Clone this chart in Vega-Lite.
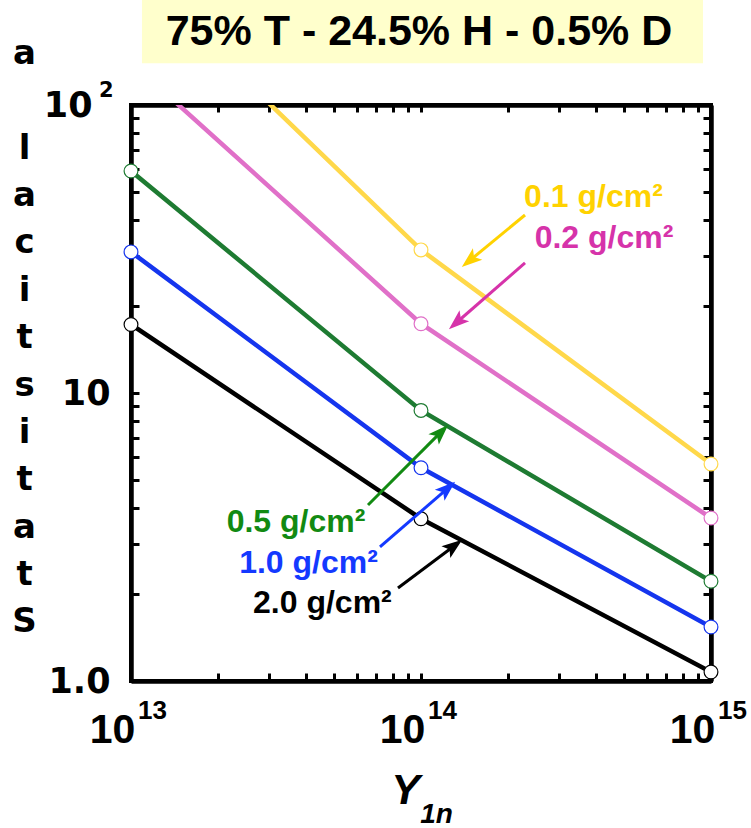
{
  "$schema": "https://vega.github.io/schema/vega-lite/v6.json",
  "width": 580,
  "height": 576,
  "autosize": {"type": "none"},
  "padding": {"left": 131, "top": 105, "right": 40, "bottom": 147},
  "config": {
    "view": {"stroke": "black", "strokeWidth": 4},
    "axis": {"grid": false, "labelFlush": false, "labelOverlap": false, "labelBound": false, "tickColor": "black", "tickWidth": 3, "domainColor": "black", "domainWidth": 4.5, "labelColor": "black", "titleColor": "black"}
  },
  "datasets": {
    "series": [
      {"series": "0.1", "x": 1e13, "y": 294},
      {"series": "0.1", "x": 1e14, "y": 31.4},
      {"series": "0.1", "x": 1e15, "y": 5.67},
      {"series": "0.2", "x": 1e13, "y": 141},
      {"series": "0.2", "x": 1e14, "y": 17.4},
      {"series": "0.2", "x": 1e15, "y": 3.68},
      {"series": "0.5", "x": 1e13, "y": 59.0},
      {"series": "0.5", "x": 1e14, "y": 8.7},
      {"series": "0.5", "x": 1e15, "y": 2.22},
      {"series": "1.0", "x": 1e13, "y": 30.9},
      {"series": "1.0", "x": 1e14, "y": 5.5},
      {"series": "1.0", "x": 1e15, "y": 1.54},
      {"series": "2.0", "x": 1e13, "y": 17.3},
      {"series": "2.0", "x": 1e14, "y": 3.66},
      {"series": "2.0", "x": 1e15, "y": 1.075}
    ],
    "arrows": [
      {"series": "0.1", "x": 2.284e14, "y": 41.5, "x2": 1.472e14, "y2": 28.83, "angle": 230.5},
      {"series": "0.2", "x": 2.284e14, "y": 28.28, "x2": 1.327e14, "y2": 17.57, "angle": 229},
      {"series": "0.5", "x": 6.566e13, "y": 4.084, "x2": 1.171e14, "y2": 7.314, "angle": 45},
      {"series": "1.0", "x": 7.221e13, "y": 2.92, "x2": 1.233e14, "y2": 4.658, "angle": 49},
      {"series": "2.0", "x": 8.33e13, "y": 2.103, "x2": 1.3e14, "y2": 2.943, "angle": 53}
    ],
    "labels": [
      {"series": "0.1", "label": "0.1 g/cm²", "x": 3.933e14, "y": 44.24},
      {"series": "0.2", "label": "0.2 g/cm²", "x": 4.276e14, "y": 31.88},
      {"series": "0.5", "label": "0.5 g/cm²", "x": 3.707e13, "y": 3.291},
      {"series": "1.0", "label": "1.0 g/cm²", "x": 4.093e13, "y": 2.371},
      {"series": "2.0", "label": "2.0 g/cm²", "x": 4.571e13, "y": 1.722}
    ],
    "heading": [{"text": "75% T - 24.5% H - 0.5% D"}]
  },
  "layer": [
    {
      "data": {"name": "heading"},
      "mark": {"type": "rect", "fill": "#FFFFCC", "clip": false},
      "encoding": {
        "x": {"datum": 1.091e13, "type": "quantitative", "scale": {"type": "log", "domain": [1e13, 1e15]}, "axis": null},
        "x2": {"datum": 9.385e14},
        "y": {"datum": 139.6, "type": "quantitative", "scale": {"type": "log", "domain": [1, 100]}, "axis": null},
        "y2": {"datum": 240}
      }
    },
    {
      "data": {"name": "heading"},
      "mark": {"type": "text", "font": "Liberation Sans", "fontWeight": "bold", "fontSize": 43, "align": "center", "baseline": "alphabetic", "color": "black", "clip": false},
      "encoding": {
        "x": {"datum": 9.84e13, "type": "quantitative", "axis": null},
        "y": {"datum": 161.6, "type": "quantitative", "axis": null},
        "text": {"field": "text"}
      }
    },
    {
      "data": {"name": "series"},
      "mark": {"type": "line", "strokeWidth": 4.5, "clip": true},
      "encoding": {
        "x": {
          "field": "x", "type": "quantitative",
          "scale": {"type": "log", "domain": [1e13, 1e15]},
          "axis": {
            "orient": "bottom",
            "values": [1e13, 2e13, 3e13, 4e13, 5e13, 6e13, 7e13, 8e13, 9e13, 1e14, 2e14, 3e14, 4e14, 5e14, 6e14, 7e14, 8e14, 9e14, 1e15],
            "labelExpr": "indexof([1e13, 1e14, 1e15], datum.value) >= 0 ? '10' : ''",
            "tickSize": -8,
            "labelFont": "Liberation Sans", "labelFontWeight": "bold", "labelFontSize": 41,
            "labelBaseline": "alphabetic", "labelPadding": 69, "labelOffset": -19,
            "title": "Y",
            "titleFont": "Liberation Sans", "titleFontWeight": "bold", "titleFontStyle": "italic", "titleFontSize": 43,
            "titleAlign": "center", "titleBaseline": "alphabetic", "titleX": 274, "titleY": 122
          }
        },
        "y": {
          "field": "y", "type": "quantitative",
          "scale": {"type": "log", "domain": [1, 100]},
          "axis": {
            "orient": "left",
            "values": [1, 2, 3, 4, 5, 6, 7, 8, 9, 10, 20, 30, 40, 50, 60, 70, 80, 90, 100],
            "labelExpr": "datum.value == 10 ? '10' : datum.value == 1 ? '1.0' : ''",
            "tickSize": -8,
            "labelFont": "DejaVu Sans", "labelFontWeight": "bold", "labelFontSize": 35,
            "labelBaseline": "middle", "labelAlign": "right", "labelPadding": 29,
            "title": ["l", "a", "c", "i", "t", "s", "i", "t", "a", "t", "S"],
            "titleFont": "DejaVu Sans", "titleFontWeight": "bold", "titleFontSize": 34,
            "titleAngle": 0, "titleAlign": "center", "titleBaseline": "alphabetic",
            "titleLineHeight": 47.4, "titleX": -107, "titleY": 53
          }
        },
        "color": {
          "field": "series", "type": "nominal",
          "scale": {"domain": ["0.1", "0.2", "0.5", "1.0", "2.0"], "range": ["#FFD84A", "#E070C8", "#1E7B32", "#1535EE", "#000000"]},
          "legend": null
        }
      }
    },
    {
      "data": {"name": "series"},
      "transform": [{"filter": "datum.y <= 100"}],
      "mark": {"type": "point", "shape": "circle", "filled": false, "fill": "white", "fillOpacity": 1, "size": 190, "strokeWidth": 1.2, "opacity": 1},
      "encoding": {
        "x": {"field": "x", "type": "quantitative", "axis": null},
        "y": {"field": "y", "type": "quantitative", "axis": null},
        "stroke": {
          "field": "series", "type": "nominal",
          "scale": {"domain": ["0.1", "0.2", "0.5", "1.0", "2.0"], "range": ["#FFD84A", "#E070C8", "#1E7B32", "#1535EE", "#000000"]},
          "legend": null
        }
      }
    },
    {
      "data": {"name": "arrows"},
      "mark": {"type": "rule", "strokeWidth": 3},
      "encoding": {
        "x": {"field": "x", "type": "quantitative", "axis": null},
        "y": {"field": "y", "type": "quantitative", "axis": null},
        "x2": {"field": "x2"},
        "y2": {"field": "y2"},
        "color": {
          "field": "series", "type": "nominal",
          "scale": {"domain": ["0.1", "0.2", "0.5", "1.0", "2.0"], "range": ["#FFD200", "#D633AA", "#128A12", "#1439FF", "#000000"]},
          "legend": null
        }
      }
    },
    {
      "data": {"name": "arrows"},
      "mark": {"type": "point", "shape": "M0,-1L0.72,1L0,0.55L-0.72,1Z", "filled": true, "size": 420, "opacity": 1, "strokeWidth": 0},
      "encoding": {
        "x": {"field": "x2", "type": "quantitative", "axis": null},
        "y": {"field": "y2", "type": "quantitative", "axis": null},
        "angle": {"field": "angle", "type": "quantitative", "scale": null},
        "color": {
          "field": "series", "type": "nominal",
          "scale": {"domain": ["0.1", "0.2", "0.5", "1.0", "2.0"], "range": ["#FFD200", "#D633AA", "#128A12", "#1439FF", "#000000"]},
          "legend": null
        }
      }
    },
    {
      "data": {"name": "labels"},
      "mark": {"type": "text", "font": "Liberation Sans", "fontWeight": "bold", "fontSize": 32, "align": "center", "baseline": "alphabetic"},
      "encoding": {
        "x": {"field": "x", "type": "quantitative", "axis": null},
        "y": {"field": "y", "type": "quantitative", "axis": null},
        "text": {"field": "label"},
        "color": {
          "field": "series", "type": "nominal",
          "scale": {"domain": ["0.1", "0.2", "0.5", "1.0", "2.0"], "range": ["#FFD200", "#D633AA", "#128A12", "#1439FF", "#000000"]},
          "legend": null
        }
      }
    },
    {
      "data": {"name": "series"},
      "mark": {"type": "point", "opacity": 0},
      "encoding": {
        "x": {
          "field": "x", "type": "quantitative",
          "axis": {
            "orient": "top",
            "values": [1e13, 2e13, 3e13, 4e13, 5e13, 6e13, 7e13, 8e13, 9e13, 1e14, 2e14, 3e14, 4e14, 5e14, 6e14, 7e14, 8e14, 9e14, 1e15],
            "labels": false, "tickSize": -7, "title": null
          }
        },
        "y": {
          "field": "y", "type": "quantitative",
          "axis": {
            "orient": "right",
            "values": [1, 2, 3, 4, 5, 6, 7, 8, 9, 10, 20, 30, 40, 50, 60, 70, 80, 90, 100],
            "labels": false, "tickSize": -8, "title": null
          }
        }
      }
    },
    {
      "data": {"name": "series"},
      "mark": {"type": "point", "opacity": 0},
      "encoding": {
        "x": {
          "field": "x", "type": "quantitative",
          "axis": {
            "orient": "bottom",
            "values": [1e13, 1e14, 1e15],
            "labelExpr": "datum.value == 1e13 ? '13' : datum.value == 1e14 ? '14' : '15'",
            "ticks": false, "domain": false,
            "labelFont": "Liberation Sans", "labelFontWeight": "bold", "labelFontSize": 26,
            "labelBaseline": "alphabetic", "labelPadding": 37, "labelOffset": 21,
            "title": "1n",
            "titleFont": "Liberation Sans", "titleFontWeight": "bold", "titleFontStyle": "italic", "titleFontSize": 28,
            "titleAlign": "center", "titleBaseline": "alphabetic", "titleX": 305, "titleY": 141
          }
        },
        "y": {
          "field": "y", "type": "quantitative",
          "axis": {
            "orient": "left",
            "values": [100],
            "labelExpr": "'10'",
            "ticks": false, "domain": false,
            "labelFont": "DejaVu Sans", "labelFontWeight": "bold", "labelFontSize": 35,
            "labelBaseline": "middle", "labelAlign": "right", "labelPadding": 39,
            "title": null
          }
        }
      }
    },
    {
      "data": {"name": "series"},
      "mark": {"type": "point", "opacity": 0},
      "encoding": {
        "x": {"field": "x", "type": "quantitative", "axis": null},
        "y": {
          "field": "y", "type": "quantitative",
          "axis": {
            "orient": "left",
            "values": [100],
            "labelExpr": "'2'",
            "ticks": false, "domain": false,
            "labelFont": "DejaVu Sans", "labelFontWeight": "bold", "labelFontSize": 21,
            "labelBaseline": "middle", "labelAlign": "right", "labelPadding": 18, "labelOffset": -15,
            "title": "a",
            "titleFont": "DejaVu Sans", "titleFontWeight": "bold", "titleFontSize": 34,
            "titleAngle": 0, "titleAlign": "center", "titleBaseline": "alphabetic",
            "titleX": -107, "titleY": -42
          }
        }
      }
    }
  ],
  "resolve": {"axis": {"x": "independent", "y": "independent"}, "scale": {"color": "independent", "stroke": "independent"}}
}
